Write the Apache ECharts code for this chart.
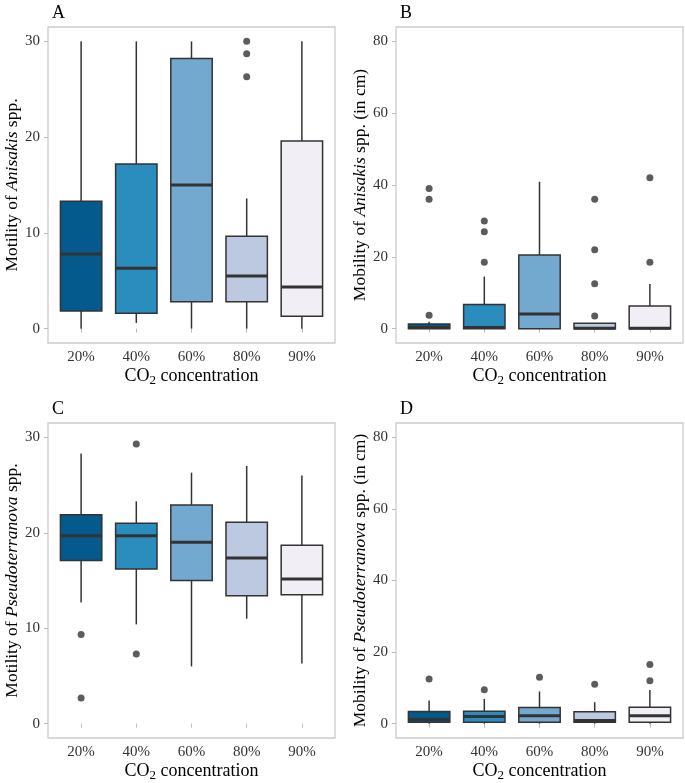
<!DOCTYPE html>
<html>
<head>
<meta charset="utf-8">
<script src="https://cdn.jsdelivr.net/npm/echarts@6/dist/echarts.min.js"></script>
<style>
html,body{margin:0;padding:0;background:#fff;}
#chart{width:685px;height:783px;}
</style>
</head>
<body>
<div id="chart"></div>
<script>
// ---- data ----
const categories = ['20%', '40%', '60%', '80%', '90%'];
const boxColors = ['#045a8d', '#2b8cbe', '#74a9cf', '#bdc9e1', '#f1eef6'];

// [low whisker, Q1, median, Q3, high whisker] per category
const aBox = [[0, 1.85, 7.8, 13.3, 30], [0.6, 1.6, 6.3, 17.2, 30], [0, 2.8, 15.0, 28.2, 30], [0, 2.8, 5.5, 9.65, 13.6], [0, 1.3, 4.35, 19.6, 30]];
const aOut = [[4, 30], [4, 28.7], [4, 26.3]];

const bBox = [[0, 0, 0.3, 1.3, 1.9], [0, 0, 0.3, 6.7, 14.5], [0, 0, 4.1, 20.5, 40.9], [0, 0, 0.1, 1.5, 1.5], [0, 0, 0.1, 6.3, 12.4]];
const bOut = [[1, 39], [1, 36], [1, 3.7], [2, 30], [2, 27], [2, 18.5], [4, 36], [4, 22], [4, 12.5], [4, 3.5], [5, 42], [5, 18.5]];

const cBox = [[12.7, 17.1, 19.7, 21.9, 28.3], [10.4, 16.2, 19.7, 21.0, 23.3], [6.0, 15.0, 19.0, 22.9, 26.3], [11.0, 13.4, 17.35, 21.1, 27.0], [6.3, 13.5, 15.15, 18.7, 26.0]];
const cOut = [[1, 9.35], [1, 2.7], [2, 29.3], [2, 7.3]];

const dBox = [[0, 0.4, 1.2, 3.4, 6.5], [0, 0.4, 2.0, 3.5, 6.9], [0, 0.4, 2.2, 4.5, 9.0], [0, 0.4, 0.9, 3.3, 6.0], [0, 0.4, 2.2, 4.6, 9.4]];
const dOut = [[1, 12.5], [2, 9.5], [3, 13.0], [4, 11.0], [5, 16.5], [5, 12.0]];

const ticks30 = [0, 10, 20, 30];
const ticks80 = [0, 20, 40, 60, 80];
const catTicks = [1, 2, 3, 4, 5];

// ---- styling ----
const FONT = '"Liberation Serif", "DejaVu Serif", serif';
const panels = [
  { letter: 'A', box: aBox, out: aOut, left: 48, top: 27, range: [-1.5, 31.5], ticks: ticks30, verb: 'Motility of ', genus: 'Anisakis', tail: ' spp.' },
  { letter: 'B', box: bBox, out: bOut, left: 396, top: 27, range: [-4, 84], ticks: ticks80, verb: 'Mobility of ', genus: 'Anisakis', tail: ' spp. (in cm)' },
  { letter: 'C', box: cBox, out: cOut, left: 48, top: 423, range: [-1.5, 31.5], ticks: ticks30, verb: 'Motility of ', genus: 'Pseudoterranova', tail: ' spp.' },
  { letter: 'D', box: dBox, out: dOut, left: 396, top: 423, range: [-4, 84], ticks: ticks80, verb: 'Mobility of ', genus: 'Pseudoterranova', tail: ' spp. (in cm)' }
];

function renderBox(params, api) {
  const x = api.value(0);
  const lo = api.value(1), q1 = api.value(2), md = api.value(3), q3 = api.value(4), hi = api.value(5);
  const half = 0.375;
  const cx = api.coord([x, md])[0];
  const xl = api.coord([x - half, md])[0];
  const xr = api.coord([x + half, md])[0];
  const yLo = api.coord([x, lo])[1];
  const yQ1 = api.coord([x, q1])[1];
  const yMd = api.coord([x, md])[1];
  const yQ3 = api.coord([x, q3])[1];
  const yHi = api.coord([x, hi])[1];
  const stroke = '#333333';
  return {
    type: 'group',
    children: [
      { type: 'line', shape: { x1: cx, y1: yHi, x2: cx, y2: yQ3 }, style: { stroke, lineWidth: 1.5 } },
      { type: 'line', shape: { x1: cx, y1: yQ1, x2: cx, y2: yLo }, style: { stroke, lineWidth: 1.5 } },
      { type: 'rect', shape: { x: xl, y: yQ3, width: xr - xl, height: yQ1 - yQ3 }, style: { fill: boxColors[x - 1], stroke, lineWidth: 1.5 } },
      { type: 'line', shape: { x1: xl, y1: yMd, x2: xr, y2: yMd }, style: { stroke, lineWidth: 3 } }
    ]
  };
}

const option = { animation: false, backgroundColor: '#ffffff', title: [], grid: [], xAxis: [], yAxis: [], series: [] };

panels.forEach((p, i) => {
  option.title.push({ text: p.letter, left: p.left - 1, top: p.top - 28, textStyle: { fontFamily: FONT, fontSize: 18, fontWeight: 'normal', color: '#000' } });
  option.grid.push({ left: p.left, top: p.top, width: 287, height: 316, show: true, borderColor: '#cccccc', borderWidth: 1.3, backgroundColor: 'transparent', containLabel: false });
  option.xAxis.push({
    type: 'value', gridIndex: i, min: 0.4, max: 5.6,
    axisLine: { show: false }, splitLine: { show: false },
    axisTick: { show: true, customValues: catTicks, length: 4, lineStyle: { color: '#bbbbbb', width: 1 } },
    axisLabel: { customValues: catTicks, formatter: v => categories[Math.round(v) - 1], margin: 7, fontFamily: FONT, fontSize: 15, color: '#333' },
    name: '{n|CO}{s|2}{n| concentration}', nameLocation: 'middle', nameGap: 22,
    nameTextStyle: { rich: { n: { fontFamily: FONT, fontSize: 18, color: '#000', lineHeight: 22 }, s: { fontFamily: FONT, fontSize: 13, color: '#000', lineHeight: 11, verticalAlign: 'bottom' } } }
  });
  option.yAxis.push({
    type: 'value', gridIndex: i, min: p.range[0], max: p.range[1],
    axisLine: { show: false }, splitLine: { show: false },
    axisTick: { show: true, customValues: p.ticks, length: 4, lineStyle: { color: '#bbbbbb', width: 1 } },
    axisLabel: { customValues: p.ticks, margin: 8, fontFamily: FONT, fontSize: 15, color: '#333' },
    name: '{n|' + p.verb + '}{i|' + p.genus + '}{n|' + p.tail + '}', nameLocation: 'middle', nameRotate: 90, nameGap: 27,
    nameTextStyle: { rich: { n: { fontFamily: FONT, fontSize: 17.5, color: '#000' }, i: { fontFamily: FONT, fontSize: 17.5, fontStyle: 'italic', color: '#000' } } }
  });
  option.series.push({
    type: 'custom', xAxisIndex: i, yAxisIndex: i,
    renderItem: renderBox,
    encode: { x: 0, y: [1, 2, 3, 4, 5] },
    data: p.box.map((b, k) => [k + 1].concat(b)),
    z: 2
  });
  option.series.push({
    type: 'scatter', xAxisIndex: i, yAxisIndex: i,
    symbolSize: 7,
    itemStyle: { color: '#333333' },
    data: p.out,
    z: 3
  });
});

const chart = echarts.init(document.getElementById('chart'), null, { renderer: 'canvas' });
chart.setOption(option);
</script>
</body>
</html>
